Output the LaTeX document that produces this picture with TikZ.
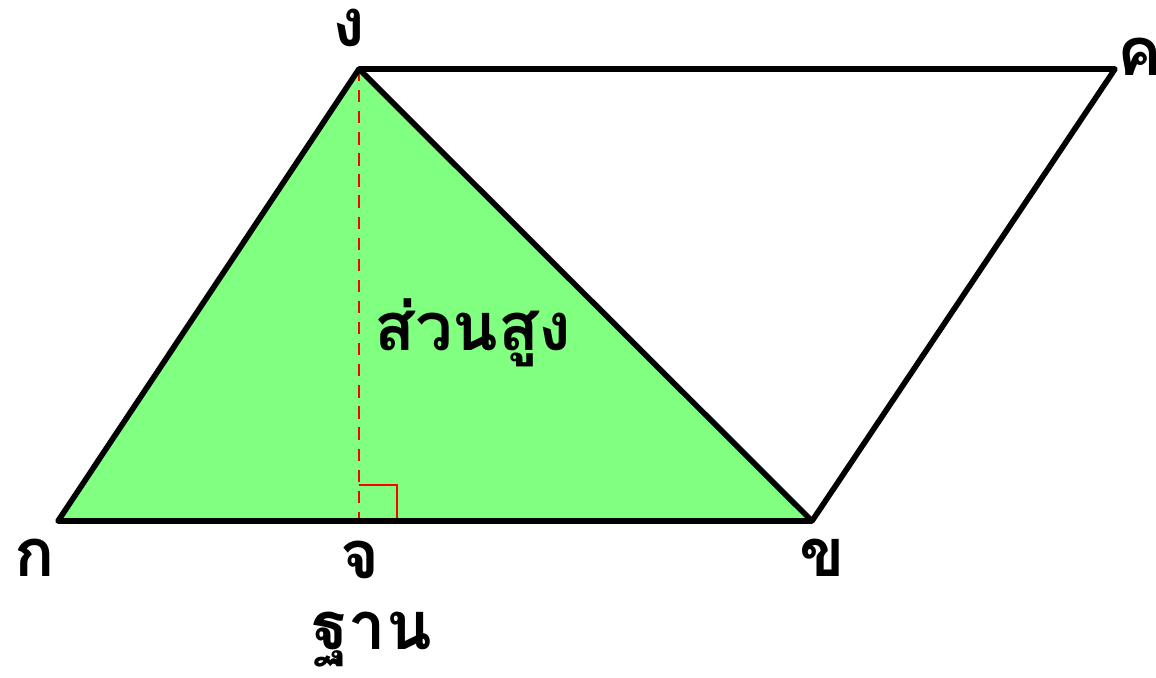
\documentclass[tikz,border=0pt]{standalone}
\usepackage{fontspec}
\newfontfamily\thaifont[Script=Thai]{Loma}
\usetikzlibrary{positioning, calc}

\begin{document}
\begin{tikzpicture}[x=0.02cm, y=-0.02cm,
    edge/.style={line width=3.2pt, line join=round},
    height/.style={red, line width=1.1pt, dash pattern=on 7pt off 5pt},
    lbl/.style={font=\thaifont\bfseries\fontsize{38}{46}\selectfont, inner sep=0pt}
]
\useasboundingbox (0,0) rectangle (1156,678);
% vertices
\coordinate (K) at (58,521);
\coordinate (Kh) at (812,521);
\coordinate (Kho) at (1115,69);
\coordinate (Ng) at (359,69);
\coordinate (C) at (359,521);
% triangle
\fill[green!50] (K) -- (Kh) -- (Ng) -- cycle;
\draw[height] (Ng) -- (C);
\draw[red, line width=1.1pt] ($(C)+(0,-36)$) -- ++(38,0) -- ++(0,36);
\draw[edge] (K) -- (Kh) -- (Kho) -- (Ng) -- cycle;
\draw[edge] (Ng) -- (Kh);
% labels
\node[lbl] (lNg) at (349,28) {ง};
\node[lbl] (lKho) at (1140,57) {ค};
\node[lbl] (lK) at (35,558) {ก};
\node[lbl] (lC) at (360,560) {จ};
\node[lbl] (lKh) at (822,558) {ข};
\node[lbl, anchor=north] (base) at (372,612) {ฐาน};
\node[lbl, anchor=west] (alt) at (374,333) {ส่วนสูง};
\end{tikzpicture}
\end{document}
